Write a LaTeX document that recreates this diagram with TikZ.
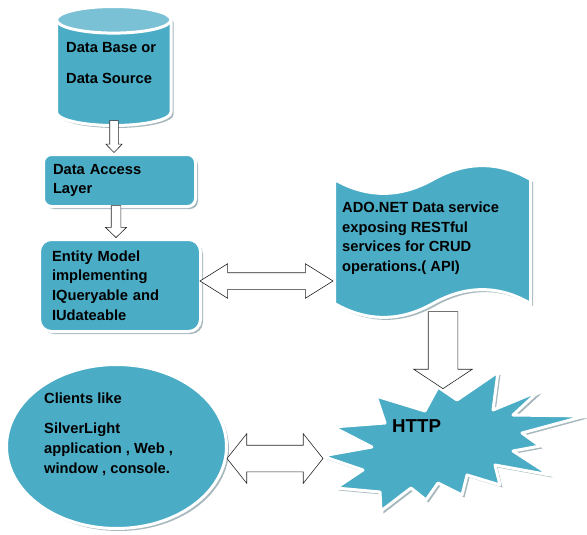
\documentclass[tikz,border=0pt]{standalone}
\usepackage{fontspec}
\setmainfont{Liberation Sans}
\usetikzlibrary{shapes.geometric,shapes.arrows,shadows,calc}
\definecolor{aqua}{HTML}{4BACC6}
\definecolor{aqualight}{HTML}{7AC1D5}

\begin{document}
\begin{tikzpicture}[x=1pt,y=1pt,
    font=\fontsize{14.7}{19.6}\selectfont\bfseries,
    blob/.style={draw=white, line width=3pt, fill=aqua,
      drop shadow={shadow xshift=2.5pt, shadow yshift=-2.5pt, fill=black!55!aqua, opacity=.4}},
    fat/.style={draw=black!85, fill=white, line width=.6pt, inner xsep=0pt, minimum width=0pt},
    lbl/.style={align=left, inner sep=0pt, anchor=north west}]
    \useasboundingbox (0,0) rectangle (587,-535);
    % data base cylinder
    \draw[blob] (56.5,-19.8) -- (56.5,-112.2)
      arc[start angle=180, end angle=360, x radius=57.25, y radius=13.3] -- (171,-19.8)
      arc[start angle=0, end angle=180, x radius=57.25, y radius=13.3] -- cycle;
    \draw[draw=white, line width=3pt, fill=aqualight] (113.75,-19.8) ellipse [x radius=57.25, y radius=13.3];
    \node[lbl] (db) at (66,-42) {Data Base or\\[11.5pt]Data Source};
    % boxes
    \node[blob, rounded corners=8pt, minimum width=152pt, minimum height=52pt,
      text width=133pt, inner sep=0pt, align=left] (dal) at (119.5,-180.5) {Data Access\\Layer};
    \node[blob, rounded corners=12pt, minimum width=161pt, minimum height=92pt,
      text width=136pt, inner sep=0pt, align=left] (ent) at (120,-285.5)
      {Entity Model\\implementing\\IQueryable and\\IUdateable};
    % wave
    \draw[blob] (334.5,-179.5) .. controls (367,-198) and (400,-198) .. (433,-179.5)
      .. controls (466,-161) and (499,-161) .. (530.5,-179.5) -- (530.5,-303.5)
      .. controls (499,-285) and (466,-285) .. (433,-303.5)
      .. controls (400,-322) and (367,-322) .. (334.5,-303.5) -- cycle;
    \node[lbl] (ado) at (342,-201.7)
      {ADO.NET Data service\\exposing RESTful\\services for CRUD\\operations.( API)};
    % explosion
    \draw[blob, line join=round] (322,-456) -- (372,-447) -- (333,-427) -- (385,-423)
      -- (376,-396) -- (425,-411) -- (438,-387) -- (457,-400) -- (498,-372) -- (493,-410)
      -- (539,-391) -- (513,-415) -- (585,-416) -- (522,-433) -- (540,-446) -- (513,-451)
      -- (550,-475) -- (495,-465) -- (500,-485) -- (467,-475) -- (462,-495) -- (438,-483)
      -- (426,-500) -- (411,-488) -- (381,-511) -- (380,-492) -- (336,-488) -- (363,-470) -- cycle;
    \node[lbl, font=\fontsize{18.7}{22}\selectfont\bfseries] (http) at (392,-419) {HTTP};
    % clients ellipse
    \node[blob, ellipse, minimum width=220pt, minimum height=164pt, inner sep=0pt] (cli) at (116.5,-446.5) {};
    \node[lbl] (cliTxt) at (44,-393)
      {Clients like\\[10.5pt]SilverLight\\application , Web ,\\window , console.};
    % block arrows
    \node[fat, single arrow, rotate=-90, inner ysep=4pt, single arrow head extend=3.8pt,
      single arrow tip angle=88, minimum height=32pt, anchor=tip] (dbDal) at ($(dal.north)+(-5.5,0)$) {};
    \node[fat, single arrow, rotate=-90, inner ysep=4.5pt, single arrow head extend=5.8pt,
      single arrow tip angle=92, minimum height=32pt, anchor=tip] (dalEnt) at ($(ent.north)+(-4,0)$) {};
    \node[fat, double arrow, inner ysep=8pt, double arrow head extend=9pt,
      double arrow tip angle=64, minimum height=133pt] (entAdo) at (266.5,-281) {};
    \node[fat, single arrow, rotate=-90, inner ysep=14.5pt, single arrow head extend=14.5pt,
      single arrow tip angle=113, minimum height=77pt, anchor=tip] (adoHttp) at (443,-389) {};
    \node[fat, double arrow, inner ysep=13pt, double arrow head extend=11.5pt,
      double arrow tip angle=103, minimum height=96pt] (cliHttp) at (275,-458.5) {};
\end{tikzpicture}
\end{document}
